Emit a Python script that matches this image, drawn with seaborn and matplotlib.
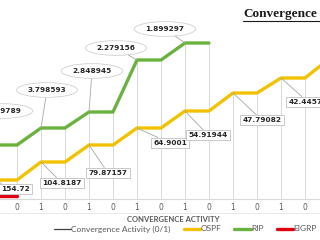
import numpy as np
import pandas as pd
import matplotlib
matplotlib.use("Agg")
import matplotlib.pyplot as plt
import seaborn as sns
from matplotlib.lines import Line2D

# ---------------- data ----------------
activity = [1, 0, 1, 0, 1, 0, 1, 0, 1, 0, 1, 0, 1, 0, 1]          # x tick labels
ospf = [19, 19, 37, 37, 54, 54, 71, 71, 88, 88, 106, 106, 121, 121, 140]
rip = [54, 54, 71, 71, 87, 87, 139, 139, 156, 156]
eigrp = [3, 3]
ospf_labels = ["154.72", "104.8187", "79.87157", "64.9001", "54.91944", "47.79082", "42.44575"]
rip_labels = ["5.569789", "3.798593", "2.848945", "2.279156", "1.899297"]
series_names = ["OSPF", "RIP", "EIGRP"]
colors = {"OSPF": "#F2C200", "RIP": "#6AB23E", "EIGRP": "#E00012"}

# layout: label offsets (pixels) from their points
ospf_off = [(22, -9), (21, -21), (19, -28), (33, -15), (23, -24), (29, -27), (27, -24)]
rip_off = [(9, 34), (6, 38), (3, 41), (-21, 12), (-20, 14)]

rows = []
for name, vals in zip(series_names, [ospf, rip, eigrp]):
    for i, v in enumerate(vals):
        rows.append({"idx": i, "value": v, "series": name})
df = pd.DataFrame(rows)

sns.set_style("white")
plt.rcParams["font.family"] = ["DejaVu Sans"]

fig = plt.figure(figsize=(3.2, 2.4), dpi=100)
ax = fig.add_axes([0, 1 - 199 / 240, 1, 199 / 240])

# drop lines
n = len(activity)
for i in range(n):
    tops = [s[i] for s in (ospf, rip, eigrp) if i < len(s)]
    ax.vlines(i, 0, max(tops), color="#d9d9d9", lw=0.7, zorder=1)

sns.lineplot(data=df, x="idx", y="value", hue="series", palette=colors,
             linewidth=2.4, legend=False, ax=ax, sort=False, estimator=None,
             zorder=3)

xmin, xmax = 7 / 24, 327 / 24
ax.set_xlim(xmin, xmax)
ax.set_ylim(0, 199)
visible = [i for i in range(n) if xmin <= i <= xmax]
ax.set_xticks(visible)
ax.set_xticklabels([str(activity[i]) for i in visible])
ax.tick_params(axis="x", length=0, pad=3, labelsize=5.5, labelcolor="#595959")
ax.set_yticks([])
ax.set_xlabel("")
ax.set_ylabel("")
for s in ["left", "right", "top"]:
    ax.spines[s].set_visible(False)
ax.spines["bottom"].set_color("#d9d9d9")
ax.spines["bottom"].set_linewidth(0.8)

# data labels
for k, (lab, off) in enumerate(zip(ospf_labels, ospf_off)):
    i = 2 * k
    ax.annotate(lab, xy=(i, ospf[i]), xytext=off, textcoords="offset pixels",
                ha="center", va="center", fontsize=5.3, weight="bold", color="#262626",
                bbox=dict(boxstyle="square,pad=0.3", fc="white", ec="#BFBFBF", lw=0.6),
                arrowprops=dict(arrowstyle="-", color="#A6A6A6", lw=0.6, shrinkA=0, shrinkB=0),
                annotation_clip=False, zorder=5)
for k, (lab, off) in enumerate(zip(rip_labels, rip_off)):
    i = 2 * k
    ax.annotate(lab, xy=(i, rip[i]), xytext=off, textcoords="offset pixels",
                ha="center", va="center", fontsize=5.3, weight="bold", color="#262626",
                bbox=dict(boxstyle="ellipse,pad=0.3", fc="white", ec="#D0D0D0", lw=0.6),
                arrowprops=dict(arrowstyle="-", color="#A6A6A6", lw=0.6, shrinkA=0, shrinkB=0),
                annotation_clip=False, zorder=5)

# title (cropped in reference)
fig.text(243 / 320, 1 - 14 / 240, "Convergence", ha="left", va="center",
         fontsize=9.5, weight="bold", family="Liberation Serif", color="#1a1a1a")
fig.add_artist(Line2D([243 / 320, 1], [1 - 20.5 / 240] * 2, color="#1a1a1a", lw=0.8))

# separator line
fig.add_artist(Line2D([0, 1], [1 - 213 / 240] * 2, color="#e6e6e6", lw=0.6))

# axis title
fig.text(173 / 320, 1 - 220 / 240, "CONVERGENCE ACTIVITY", ha="center", va="center",
         fontsize=5.5, weight="bold", color="#595959", family="Lato")

handles = [Line2D([], [], color="#404040", lw=0.9)] + \
          [Line2D([], [], color=colors[s], lw=2.4) for s in series_names]
labels = ["Convergence Activity (0/1)"] + series_names
fig.legend(handles, labels, ncol=4, loc="center", bbox_to_anchor=(185.5 / 320, 1 - 229 / 240),
           frameon=False, prop={"family": "Lato", "size": 6}, labelcolor="#595959",
           handlelength=2.0, handletextpad=0.0, columnspacing=1.6, borderaxespad=0, borderpad=0)

fig.savefig("out.png", dpi=100)
